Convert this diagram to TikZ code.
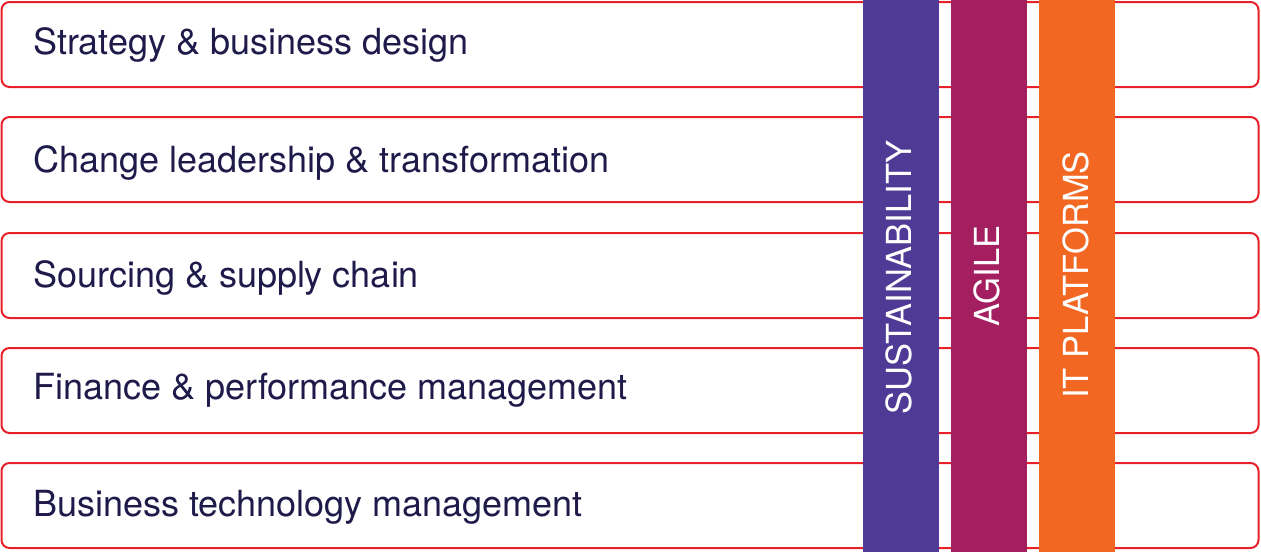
\documentclass[tikz,border=0pt]{standalone}
\usepackage{fontspec}
\setmainfont{TeX Gyre Heros}
\definecolor{rowred}{HTML}{E8202A}
\definecolor{navy}{HTML}{1E1A4A}
\definecolor{cpurple}{HTML}{4F3A96}
\definecolor{cmagenta}{HTML}{A31F5F}
\definecolor{corange}{HTML}{F26722}
\begin{document}
\begin{tikzpicture}[x=1pt,y=-1pt,
  rowbox/.style={draw=rowred, line width=2pt, rounded corners=8pt, minimum width=1257pt, minimum height=85pt, inner sep=0pt, fill=white},
  rowtext/.style={anchor=base west, inner sep=0pt, text=navy, font=\fontsize{36}{41}\selectfont},
  barbox/.style={minimum width=76pt, minimum height=552pt, inner sep=0pt, draw=none},
  bartext/.style={rotate=90, inner sep=0pt, text=white, font=\fontsize{34.5}{39}\selectfont}]
\useasboundingbox (0,0) rectangle (1261,552);
\fill[white] (0,0) rectangle (1261,552);
% rows
\node[rowbox] (r1) at (630,44.5) {};
\node[rowbox] (r2) at (630,159.5) {};
\node[rowbox] (r3) at (630,275.5) {};
\node[rowbox] (r4) at (630,390.5) {};
\node[rowbox] (r5) at (630,505.5) {};
\node[rowtext] (t1) at (33,54) {Strategy \& business design};
\node[rowtext] (t2) at (33,172) {Change leadership \& transformation};
\node[rowtext] (t3) at (33,287) {Sourcing \& supply chain};
\node[rowtext] (t4) at (33,399) {Finance \& performance management};
\node[rowtext] (t5) at (33,516) {Business technology management};
% bars
\node[barbox, fill=cpurple] (b1) at (901,276) {};
\node[barbox, fill=cmagenta] (b2) at (989,276) {};
\node[barbox, fill=corange] (b3) at (1077,276) {};
\node[bartext] (l1) at (898.5,277) {SUSTAINABILITY};
\node[bartext] (l2) at (987,276) {AGILE};
\node[bartext] (l3) at (1076,275) {IT PLATFORMS};
\end{tikzpicture}
\end{document}
